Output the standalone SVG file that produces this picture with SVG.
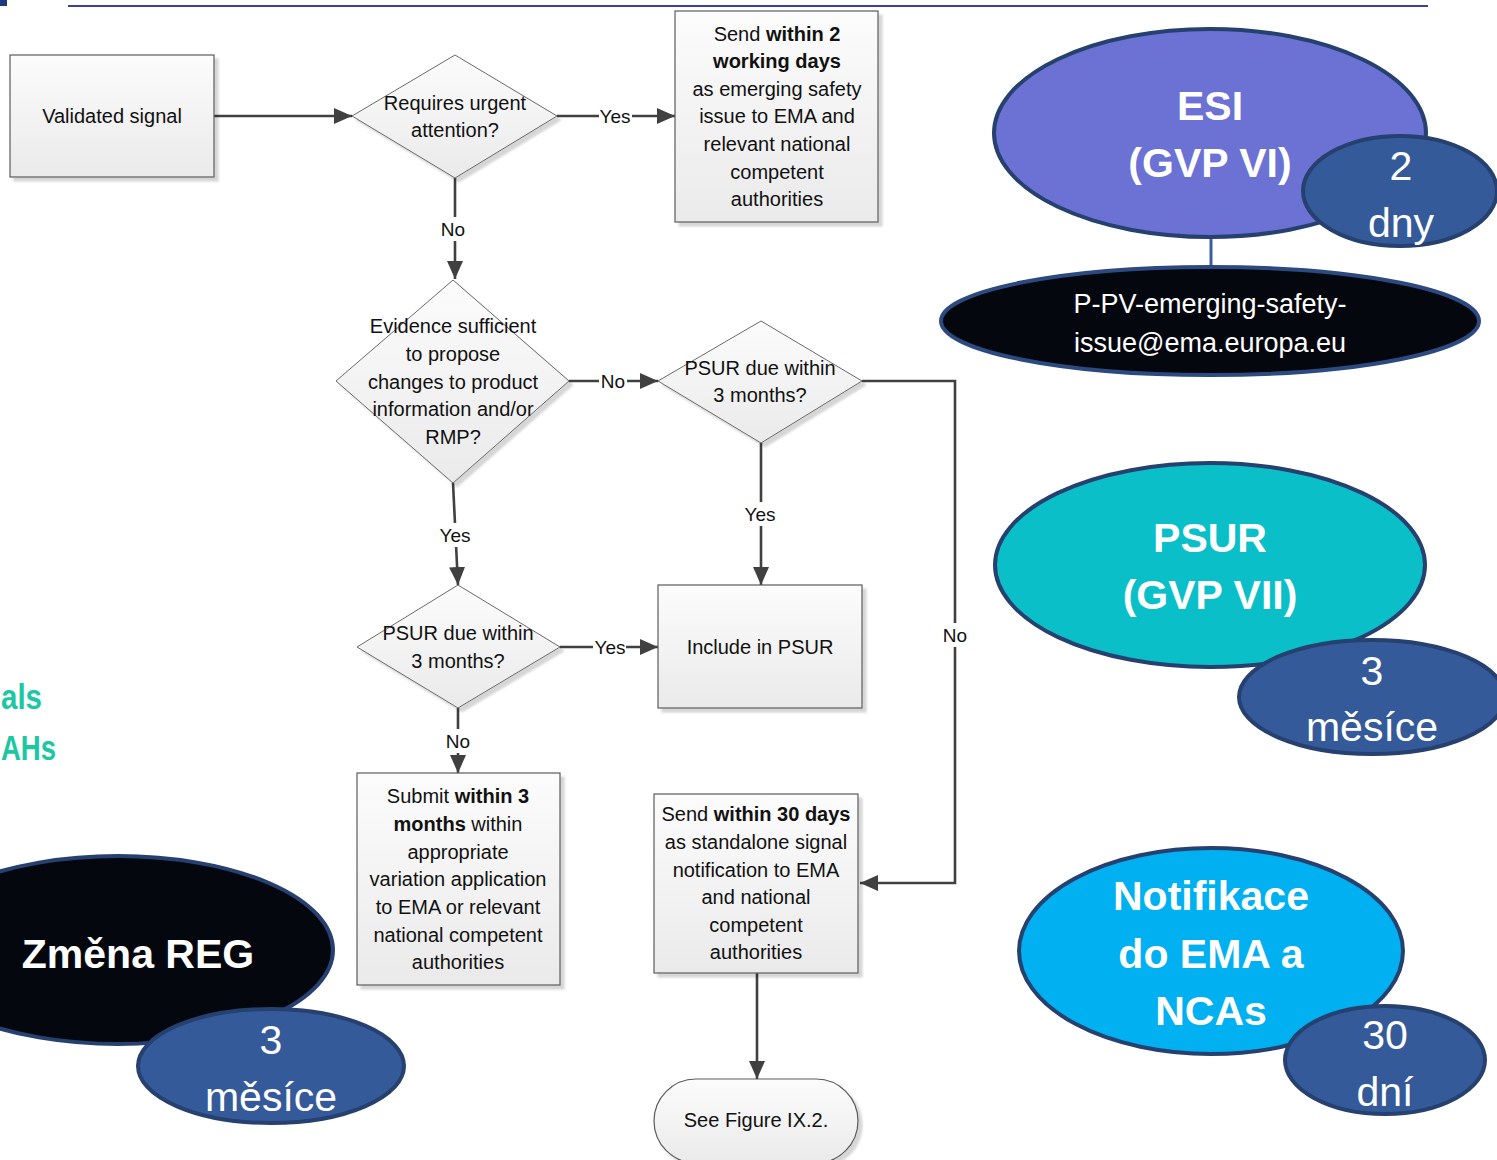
<svg xmlns="http://www.w3.org/2000/svg" width="1497" height="1160" viewBox="0 0 1497 1160">
<defs>
<linearGradient id="gbox" x1="0" y1="0" x2="0" y2="1">
<stop offset="0" stop-color="#fcfcfc"/>
<stop offset="1" stop-color="#eaeaea"/>
</linearGradient>
<filter id="sh" x="-10%" y="-10%" width="130%" height="130%">
<feDropShadow dx="4" dy="4" stdDeviation="1" flood-color="#000" flood-opacity="0.16"/>
</filter>
<marker id="arr" markerUnits="userSpaceOnUse" markerWidth="20" markerHeight="18" refX="18" refY="8" orient="auto">
<path d="M0,0 L18,8 L0,16 z" fill="#404040"/>
</marker>
<style>
.box{fill:url(#gbox);stroke:#5a5a5a;stroke-width:1.2;filter:url(#sh)}
.dia{fill:url(#gbox);stroke:#6a6a6a;stroke-width:1;filter:url(#sh)}
.t{font-family:"Liberation Sans",Arial,sans-serif;font-size:20px;fill:#111;text-anchor:middle}
.b{font-weight:bold}
.lbl{font-family:"Liberation Sans",Arial,sans-serif;font-size:19px;fill:#111;text-anchor:middle}
.lb{fill:#fff}
.c{fill:none;stroke:#404040;stroke-width:2.6}
.big{font-family:"Liberation Sans",Arial,sans-serif;font-size:41px;font-weight:bold;fill:#fff;text-anchor:middle}
.num{font-family:"Liberation Sans",Arial,sans-serif;font-size:41px;fill:#fff;text-anchor:middle}
.ell{stroke:#26406f;stroke-width:4}
.teal{font-family:"Liberation Sans",Arial,sans-serif;font-size:35px;font-weight:bold;fill:#1cc7a4;text-anchor:start}
</style>
</defs>
<rect width="1497" height="1160" fill="#fff"/>
<rect x="0" y="0" width="7" height="6" fill="#1d3a7a"/>
<line x1="68" y1="6" x2="1428" y2="6" stroke="#3c3f9e" stroke-width="2"/>

<text class="teal" x="1" y="709" textLength="41" lengthAdjust="spacingAndGlyphs">als</text>
<text class="teal" x="1" y="760" textLength="55" lengthAdjust="spacingAndGlyphs">AHs</text>

<g id="connectors">
<path class="c" d="M214,116 L352,116" marker-end="url(#arr)"/>
<path class="c" d="M557,116 L675,116" marker-end="url(#arr)"/>
<path class="c" d="M455,178 L455,279" marker-end="url(#arr)"/>
<path class="c" d="M569,381 L658,381" marker-end="url(#arr)"/>
<path class="c" d="M862,381 L955,381 L955,883 L860,883" marker-end="url(#arr)"/>
<path class="c" d="M761,443 L761,585" marker-end="url(#arr)"/>
<path class="c" d="M453,483 L458,585" marker-end="url(#arr)"/>
<path class="c" d="M560,647 L658,647" marker-end="url(#arr)"/>
<path class="c" d="M458,708 L458,773" marker-end="url(#arr)"/>
<path class="c" d="M757,973 L757,1079" marker-end="url(#arr)"/>
<rect class="lb" x="599" y="105" width="33" height="22"/><text class="lbl" x="615" y="123">Yes</text>
<rect class="lb" x="439" y="217" width="28" height="24"/><text class="lbl" x="453" y="236">No</text>
<rect class="lb" x="599" y="370" width="28" height="22"/><text class="lbl" x="613" y="388">No</text>
<rect class="lb" x="743" y="502" width="34" height="24"/><text class="lbl" x="760" y="521">Yes</text>
<rect class="lb" x="439" y="523" width="34" height="24"/><text class="lbl" x="455" y="542">Yes</text>
<rect class="lb" x="593" y="636" width="33" height="22"/><text class="lbl" x="610" y="654">Yes</text>
<rect class="lb" x="444" y="729" width="28" height="24"/><text class="lbl" x="458" y="748">No</text>
<rect class="lb" x="941" y="623" width="28" height="24"/><text class="lbl" x="955" y="642">No</text>
</g>

<g id="validated">
<rect class="box" x="10" y="55" width="204" height="122"/>
<text class="t" x="112" y="123">Validated signal</text>
</g>

<g id="urgent">
<polygon class="dia" points="352,116 455,55 557,116 455,178"/>
<text class="t" x="455" y="110">Requires urgent</text>
<text class="t" x="455" y="137">attention?</text>
</g>

<g id="send2">
<rect class="box" x="675" y="11" width="203" height="211"/>
<text class="t" x="777" y="41">Send <tspan class="b">within 2</tspan></text>
<text class="t b" x="777" y="68">working days</text>
<text class="t" x="777" y="96">as emerging safety</text>
<text class="t" x="777" y="123">issue to EMA and</text>
<text class="t" x="777" y="151">relevant national</text>
<text class="t" x="777" y="179">competent</text>
<text class="t" x="777" y="206">authorities</text>
</g>

<g id="evidence">
<polygon class="dia" points="336,381 453,280 569,381 453,483"/>
<text class="t" x="453" y="333">Evidence sufficient</text>
<text class="t" x="453" y="361">to propose</text>
<text class="t" x="453" y="389">changes to product</text>
<text class="t" x="453" y="416">information and/or</text>
<text class="t" x="453" y="444">RMP?</text>
</g>

<g id="psur1">
<polygon class="dia" points="658,381 761,321 862,381 761,443"/>
<text class="t" x="760" y="375">PSUR due within</text>
<text class="t" x="760" y="402">3 months?</text>
</g>

<g id="include">
<rect class="box" x="658" y="585" width="204" height="123"/>
<text class="t" x="760" y="654">Include in PSUR</text>
</g>

<g id="psur2">
<polygon class="dia" points="357,647 458,585 560,647 458,708"/>
<text class="t" x="458" y="640">PSUR due within</text>
<text class="t" x="458" y="668">3 months?</text>
</g>

<g id="submit">
<rect class="box" x="357" y="773" width="203" height="212"/>
<text class="t" x="458" y="803">Submit <tspan class="b">within 3</tspan></text>
<text class="t" x="458" y="831"><tspan class="b">months</tspan> within</text>
<text class="t" x="458" y="859">appropriate</text>
<text class="t" x="458" y="886">variation application</text>
<text class="t" x="458" y="914">to EMA or relevant</text>
<text class="t" x="458" y="942">national competent</text>
<text class="t" x="458" y="969">authorities</text>
</g>

<g id="send30">
<rect class="box" x="654" y="794" width="204" height="179"/>
<text class="t" x="756" y="821">Send <tspan class="b">within 30 days</tspan></text>
<text class="t" x="756" y="849">as standalone signal</text>
<text class="t" x="756" y="877">notification to EMA</text>
<text class="t" x="756" y="904">and national</text>
<text class="t" x="756" y="932">competent</text>
<text class="t" x="756" y="959">authorities</text>
</g>

<g id="seefigure">
<rect class="box" x="654" y="1079" width="204" height="84" rx="42" ry="42"/>
<text class="t" x="756" y="1127">See Figure IX.2.</text>
</g>

<g id="esi">
<line x1="1211" y1="236" x2="1211" y2="267" stroke="#3a5fa0" stroke-width="3"/>
<ellipse class="ell" cx="1210" cy="133" rx="216" ry="104" fill="#6b72d4"/>
<text class="big" x="1210" y="120">ESI</text>
<text class="big" x="1210" y="177">(GVP VI)</text>
</g>
<g id="esi-days">
<ellipse class="ell" cx="1400" cy="191" rx="97" ry="55" fill="#345a9a"/>
<text class="num" x="1401" y="180">2</text>
<text class="num" x="1401" y="237">dny</text>
</g>
<g id="esi-mail">
<ellipse cx="1210" cy="321" rx="269" ry="54" fill="#05070f" stroke="#2c4a80" stroke-width="4"/>
<text class="num" style="font-size:27px" x="1210" y="313">P-PV-emerging-safety-</text>
<text class="num" style="font-size:27px" x="1210" y="352">issue@ema.europa.eu</text>
</g>

<g id="psur">
<ellipse class="ell" cx="1210" cy="565" rx="215" ry="102" fill="#0abfc8"/>
<text class="big" x="1210" y="552">PSUR</text>
<text class="big" x="1210" y="609">(GVP VII)</text>
</g>
<g id="psur-days">
<ellipse class="ell" cx="1372" cy="697" rx="133" ry="57" fill="#345a9a"/>
<text class="num" x="1372" y="685">3</text>
<text class="num" x="1372" y="741">měsíce</text>
</g>

<g id="notif">
<ellipse class="ell" cx="1211" cy="951" rx="192" ry="103" fill="#00b0f0"/>
<text class="big" x="1211" y="910">Notifikace</text>
<text class="big" x="1211" y="968">do EMA a</text>
<text class="big" x="1211" y="1025">NCAs</text>
</g>
<g id="notif-days">
<ellipse class="ell" cx="1385" cy="1060" rx="100" ry="54" fill="#345a9a"/>
<text class="num" x="1385" y="1049">30</text>
<text class="num" x="1385" y="1106">dní</text>
</g>

<g id="zmena">
<ellipse class="ell" cx="118" cy="950" rx="215" ry="94" fill="#05070f"/>
<text class="big" x="138" y="968">Změna REG</text>
</g>
<g id="zmena-days">
<ellipse class="ell" cx="271" cy="1066" rx="133" ry="57" fill="#345a9a"/>
<text class="num" x="271" y="1054">3</text>
<text class="num" x="271" y="1111">měsíce</text>
</g>
</svg>
